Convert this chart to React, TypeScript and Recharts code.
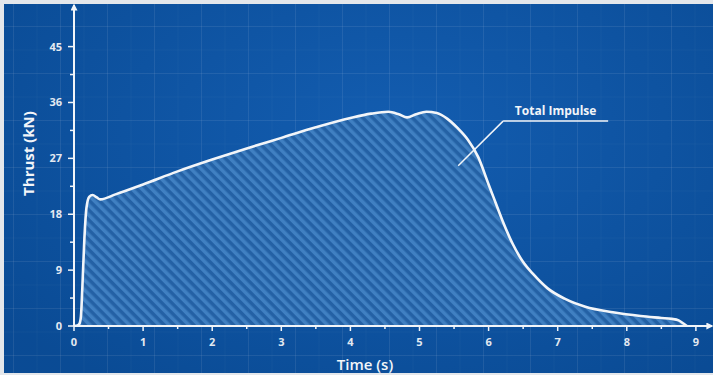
import React from "react";
import { ComposedChart, Area, XAxis, YAxis, ReferenceLine, Label } from "recharts";

// ---- data ----
const timeS = [0, 0.05, 0.08, 0.1, 0.12, 0.15, 0.18, 0.22, 0.27, 0.33, 0.38, 0.6, 1, 1.5, 2, 2.5, 3, 3.5, 4, 4.3, 4.55, 4.7, 4.82, 4.95, 5.1, 5.25, 5.4, 5.55, 5.7, 5.85, 6.0, 6.1, 6.2, 6.35, 6.5, 6.65, 6.85, 7.1, 7.4, 7.8, 8.2, 8.5, 8.65, 8.75, 8.82, 8.87];
const thrustKN = [0, 0.1, 0.4, 1.5, 6, 14, 19, 20.8, 21.1, 20.7, 20.4, 21.2, 22.8, 24.9, 26.8, 28.6, 30.3, 32.0, 33.5, 34.2, 34.5, 34.1, 33.6, 34.1, 34.5, 34.3, 33.4, 31.9, 30.0, 27.2, 22.8, 19.9, 17.0, 13.2, 10.3, 8.3, 6.1, 4.4, 3.1, 2.2, 1.6, 1.3, 1.15, 0.9, 0.4, 0];

const xMajorTicks = [0, 1, 2, 3, 4, 5, 6, 7, 8, 9];
const xMinorTicks = [0.5, 1.5, 2.5, 3.5, 4.5, 5.5, 6.5, 7.5, 8.5];
const yMajorTicks = [0, 9, 18, 27, 36, 45];
const yMinorTicks = [4.5, 13.5, 22.5, 31.5, 40.5];

const annotationText = "Total Impulse";
const annotationElbow = { x: 6.21, y: 33 };
const annotationEnd = { x: 7.73, y: 33 };
const annotationTip = { x: 5.56, y: 25.8 };

const xLabel = "Time (s)";
const yLabel = "Thrust (kN)";

const data = timeS.map((t, i) => ({ t, thrust: thrustKN[i] }));
const xTicks = [...xMajorTicks, ...xMinorTicks].sort((a, b) => a - b);
const yTicks = [...yMajorTicks, ...yMinorTicks].sort((a, b) => a - b);

const FONT = "'Open Sans', 'DejaVu Sans', sans-serif";
const WHITE = "#f2f5f9";

const XTick = (props: any) => {
  const { x, y, payload } = props;
  const major = xMajorTicks.includes(payload.value);
  return (
    <g>
      <line x1={x} x2={x} y1={y} y2={y + (major ? 5 : 3)} stroke={WHITE} strokeWidth={1.5} />
      {major && (
        <text x={x} y={y + 20} textAnchor="middle" fill="#e3e9f1" fontFamily={FONT} fontWeight={700} fontSize={11}>
          {String(payload.value)}
        </text>
      )}
    </g>
  );
};

const YTick = (props: any) => {
  const { x, y, payload } = props;
  const major = yMajorTicks.includes(payload.value);
  return (
    <g>
      <line x1={x - (major ? 6 : 4)} x2={x} y1={y} y2={y} stroke={WHITE} strokeWidth={1.5} />
      {major && (
        <text x={x - 12} y={y + 4} textAnchor="end" fill="#e3e9f1" fontFamily={FONT} fontWeight={700} fontSize={11}>
          {String(payload.value)}
        </text>
      )}
    </g>
  );
};

const YTitle = (props: any) => {
  const vb = props.viewBox || {};
  const cx = 28;
  const cy = (vb.y ?? 5) + (vb.height ?? 321) / 2 - 12;
  return (
    <text x={cx} y={cy} transform={`rotate(-90 ${cx} ${cy})`} textAnchor="middle" dominantBaseline="central" fill={WHITE} fontFamily={FONT} fontWeight={700} fontSize={15}>
      {yLabel}
    </text>
  );
};

const XTitle = (props: any) => {
  const vb = props.viewBox || {};
  const cx = (vb.x ?? 74) + (vb.width ?? 638) / 2 - 28;
  return (
    <text x={cx} y={370} textAnchor="middle" fill={WHITE} fontFamily={FONT} fontWeight={600} fontSize={15}>
      {xLabel}
    </text>
  );
};

export default function App() {
  return (
    <div style={{ position: "absolute", left: 0, top: 0, width: 713, height: 375, background: "#e4e7eb", overflow: "hidden" }}>
      <div
        style={{
          position: "absolute",
          left: 4,
          top: 4,
          width: 709,
          height: 369,
          backgroundColor: "#0c57a8",
          backgroundImage:
            "radial-gradient(ellipse at 55% 35%, rgba(40,110,200,0.25), rgba(0,20,60,0.18) 90%)," +
            "linear-gradient(rgba(255,255,255,0.07) 1px, transparent 1px)," +
            "linear-gradient(90deg, rgba(255,255,255,0.07) 1px, transparent 1px)," +
            "linear-gradient(rgba(255,255,255,0.03) 1px, transparent 1px)," +
            "linear-gradient(90deg, rgba(255,255,255,0.03) 1px, transparent 1px)",
          backgroundSize: "100% 100%, 47px 47px, 47px 47px, 23.5px 23.5px, 23.5px 23.5px",
          backgroundPosition: "0 0, 0 22px, 9px 0, 0 22px, 9px 0",
        }}
      />
      <div style={{ position: "absolute", left: 0, top: 0 }}>
        <ComposedChart width={713} height={375} data={data} margin={{ top: 5, right: 1, bottom: 0, left: 0 }}>
          <defs>
            <pattern id="hatch" width="7" height="7" patternUnits="userSpaceOnUse" patternTransform="rotate(-45)">
              <rect x="0" y="0" width="7" height="7" fill="#2461a5" />
              <rect x="0" y="0" width="3.5" height="7" fill="#4080c2" />
            </pattern>
            <marker id="arrow" viewBox="0 0 10 10" refX="8" refY="5" markerWidth="7" markerHeight="7" markerUnits="userSpaceOnUse" orient="auto-start-reverse">
              <path d="M0,0 L10,5 L0,10 z" fill={WHITE} />
            </marker>
          </defs>
          <XAxis
            dataKey="t"
            type="number"
            domain={[0, 9.233]}
            ticks={xTicks}
            interval={0}
            allowDataOverflow
            height={49}
            tickSize={0}
            tickMargin={0}
            tickLine={false}
            tick={<XTick />}
            axisLine={{ stroke: WHITE, strokeWidth: 2, markerEnd: "url(#arrow)" } as any}
          >
            <Label content={<XTitle />} />
          </XAxis>
          <YAxis
            type="number"
            domain={[0, 51.7]}
            ticks={yTicks}
            interval={0}
            allowDataOverflow
            width={74}
            tickSize={0}
            tickMargin={0}
            tickLine={false}
            tick={<YTick />}
            axisLine={{ stroke: WHITE, strokeWidth: 2, markerStart: "url(#arrow)" } as any}
          >
            <Label content={<YTitle />} />
          </YAxis>
          <Area
            type="monotone"
            dataKey="thrust"
            fill="url(#hatch)"
            fillOpacity={1}
            stroke={WHITE}
            strokeWidth={2.6}
            dot={false}
            activeDot={false}
            isAnimationActive={false}
          />
          <ReferenceLine segment={[annotationTip, annotationElbow]} stroke={WHITE} strokeWidth={1.5} ifOverflow="visible" />
          <ReferenceLine
            segment={[annotationElbow, annotationEnd]}
            stroke={WHITE}
            strokeWidth={1.5}
            ifOverflow="visible"
            label={{ value: annotationText, position: "top", offset: 6, fill: WHITE, fontFamily: FONT, fontWeight: 700, fontSize: 12 }}
          />
        </ComposedChart>
      </div>
    </div>
  );
}
